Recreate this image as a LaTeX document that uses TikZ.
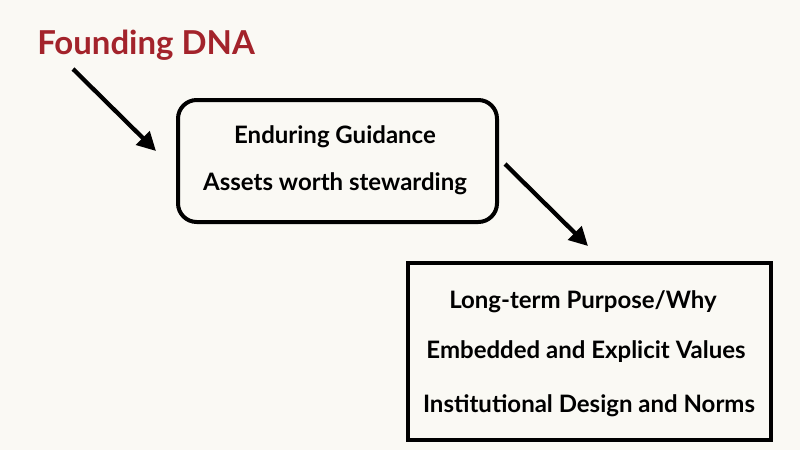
\documentclass[tikz,border=0pt]{standalone}
\usepackage{fontspec}
\setmainfont{Lato}
\usetikzlibrary{arrows.meta,shadows}
\definecolor{bg}{HTML}{FAF9F4}
\definecolor{dnared}{HTML}{A3232B}
\tikzset{
  every picture/.style={x=0.75pt,y=-0.75pt},
  boxline/.style={draw=black,line width=3pt,fill=bg,drop shadow={shadow xshift=1pt,shadow yshift=-1pt,opacity=0.25}},
  boxtext/.style={anchor=base,font=\fontsize{18pt}{20pt}\selectfont\bfseries,inner sep=0pt},
  bigarrow/.style={line width=3.2pt,-{Triangle[length=14pt,width=14pt]}},
}
\begin{document}
\begin{tikzpicture}
\fill[bg] (0,0) rectangle (800,450);
\useasboundingbox (0,0) rectangle (800,450);
\node[anchor=base west,inner sep=0pt,text=dnared,font=\fontsize{24.7pt}{28pt}\selectfont\bfseries] (title) at (37,54) {Founding DNA};
\node[boxline,rounded corners=14pt,minimum width=319*0.75pt,minimum height=122*0.75pt] (guid) at (337.5,161) {};
\node[boxline,minimum width=363*0.75pt,minimum height=177*0.75pt] (found) at (589.5,351.5) {};
\node[boxtext] (g1) at (335,143) {Enduring Guidance};
\node[boxtext] (g2) at (335,190) {Assets worth stewarding};
\node[boxtext] (f1) at (583,308) {Long-term Purpose/Why};
\node[boxtext] (f2) at (586,358) {Embedded and Explicit Values};
\node[boxtext] (f3) at (589,412) {Institutional Design and Norms};
\coordinate (a1s) at (73,69);
\coordinate (a1e) at (156,151);
\coordinate (a2s) at (505,164);
\coordinate (a2e) at (588,246);
\draw[bigarrow] (a1s) -- (a1e);
\draw[bigarrow] (a2s) -- (a2e);
\end{tikzpicture}
\end{document}
